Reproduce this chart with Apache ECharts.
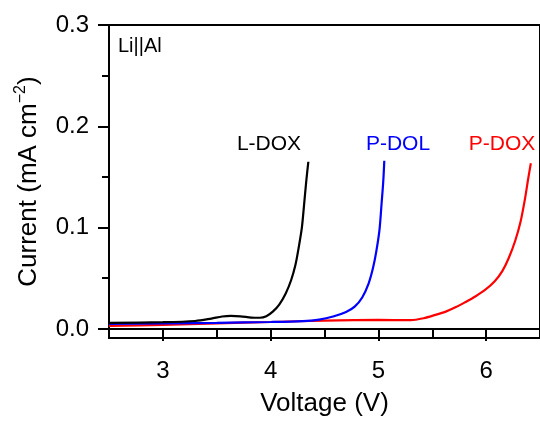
<!DOCTYPE html>
<html>
<head>
<meta charset="utf-8">
<script src="https://cdn.jsdelivr.net/npm/echarts@6/dist/echarts.min.js"></script>
<style>
  html, body { margin: 0; padding: 0; background: #fff; }
  #chart { width: 540px; height: 423px; }
</style>
</head>
<body>
<div id="chart"></div>
<script>
// LSV curves, [voltage (V), current (mA cm^-2)]
const lDox = [
  [2.5, 0.006], [3.0, 0.0066], [3.3, 0.0078], [3.45, 0.0102], [3.55, 0.0122],
  [3.63, 0.0128], [3.72, 0.0124], [3.82, 0.0112], [3.9, 0.011], [3.96, 0.0125],
  [4.02, 0.017], [4.08, 0.024], [4.14, 0.035], [4.19, 0.048], [4.23, 0.063],
  [4.26, 0.08], [4.29, 0.1], [4.31, 0.122], [4.33, 0.145], [4.35, 0.165]
]
const pDol = [
  [2.5, 0.005], [3.0, 0.0055], [3.5, 0.006], [4.0, 0.0068], [4.3, 0.0077],
  [4.45, 0.0092], [4.58, 0.0122], [4.7, 0.0167], [4.78, 0.022], [4.85, 0.031],
  [4.91, 0.045], [4.95, 0.06], [4.98, 0.076], [5.01, 0.0975], [5.03, 0.124],
  [5.045, 0.145], [5.055, 0.166]
]
const pDox = [
  [2.5, 0.003], [3.0, 0.004], [3.5, 0.0055], [4.0, 0.0068], [4.5, 0.0082],
  [5.0, 0.0088], [5.3, 0.0086], [5.42, 0.0105], [5.53, 0.0138], [5.62, 0.0168],
  [5.72, 0.0215], [5.81, 0.0266], [5.9, 0.032], [5.99, 0.0384], [6.08, 0.047],
  [6.15, 0.057], [6.21, 0.07], [6.27, 0.087], [6.32, 0.106], [6.36, 0.128],
  [6.39, 0.148], [6.415, 0.1635]
]

const xMajor = [3, 4, 5, 6]
const xMinor = [3.5, 4.5, 5.5]
const yMajor = [0, 0.1, 0.2, 0.3]
const yMinor = [0.05, 0.15, 0.25]

const font = 'Liberation Sans, Arial, sans-serif'

const chart = echarts.init(document.getElementById('chart'))

const lineSeries = (name, data, color) => ({
  name,
  type: 'line',
  data,
  smooth: 0.3,
  showSymbol: false,
  lineStyle: { color, width: 2.2 },
  itemStyle: { color }
})

chart.setOption({
  animation: false,
  grid: {
    left: 109,
    top: 25,
    width: 433,
    height: 313,
    show: true,
    borderColor: '#000',
    borderWidth: 2
  },
  xAxis: [
    {
      type: 'value',
      min: 2.5,
      max: 6.5,
      name: 'Voltage (V)',
      nameLocation: 'middle',
      nameGap: 53,
      nameTextStyle: { fontFamily: font, fontSize: 26, color: '#000' },
      axisLine: { lineStyle: { color: '#000', width: 2 } },
      axisTick: { customValues: xMajor, length: 12, lineStyle: { width: 2 } },
      axisLabel: { customValues: xMajor, margin: 21, fontFamily: font, fontSize: 24, color: '#000' },
      splitLine: { show: false }
    },
    {
      type: 'value',
      min: 2.5,
      max: 6.5,
      position: 'bottom',
      axisLine: { show: false },
      axisTick: { customValues: xMinor, length: 8, lineStyle: { width: 2, color: '#000' } },
      axisLabel: { show: false },
      splitLine: { show: false }
    }
  ],
  yAxis: [
    {
      type: 'value',
      min: -0.009,
      max: 0.3,
      name: '{a|Current (mA cm}{s|−2}{a|)}',
      nameLocation: 'middle',
      nameGap: 64,
      nameTextStyle: {
        rich: {
          a: { fontFamily: font, fontSize: 26, color: '#000', lineHeight: 32 },
          s: { fontFamily: font, fontSize: 16, color: '#000', lineHeight: 32, verticalAlign: 'top' }
        }
      },
      axisLine: { lineStyle: { color: '#000', width: 2 } },
      axisTick: { customValues: yMajor, length: 11, lineStyle: { width: 2 } },
      axisLabel: {
        customValues: yMajor,
        margin: 20,
        fontFamily: font,
        fontSize: 24,
        color: '#000',
        formatter: v => v.toFixed(1)
      },
      splitLine: { show: false }
    },
    {
      type: 'value',
      min: -0.009,
      max: 0.3,
      position: 'left',
      axisLine: { show: false },
      axisTick: { customValues: yMinor, length: 7, lineStyle: { width: 2, color: '#000' } },
      axisLabel: { show: false },
      splitLine: { show: false }
    }
  ],
  series: [
    lineSeries('P-DOX', pDox, '#ff0000'),
    lineSeries('P-DOL', pDol, '#0000ff'),
    lineSeries('L-DOX', lDox, '#000000')
  ],
  graphic: [
    { type: 'text', x: 118, y: 46, style: { text: 'Li||Al', fontFamily: font, fontSize: 20, fill: '#000', verticalAlign: 'middle' } },
    { type: 'text', x: 269, y: 144, style: { text: 'L-DOX', fontFamily: font, fontSize: 21, fill: '#000', align: 'center', verticalAlign: 'middle' } },
    { type: 'text', x: 398, y: 144, style: { text: 'P-DOL', fontFamily: font, fontSize: 21, fill: '#0000ff', align: 'center', verticalAlign: 'middle' } },
    { type: 'text', x: 502, y: 144, style: { text: 'P-DOX', fontFamily: font, fontSize: 21, fill: '#ff0000', align: 'center', verticalAlign: 'middle' } }
  ]
})

window.addEventListener('resize', () => chart.resize())
</script>
</body>
</html>
